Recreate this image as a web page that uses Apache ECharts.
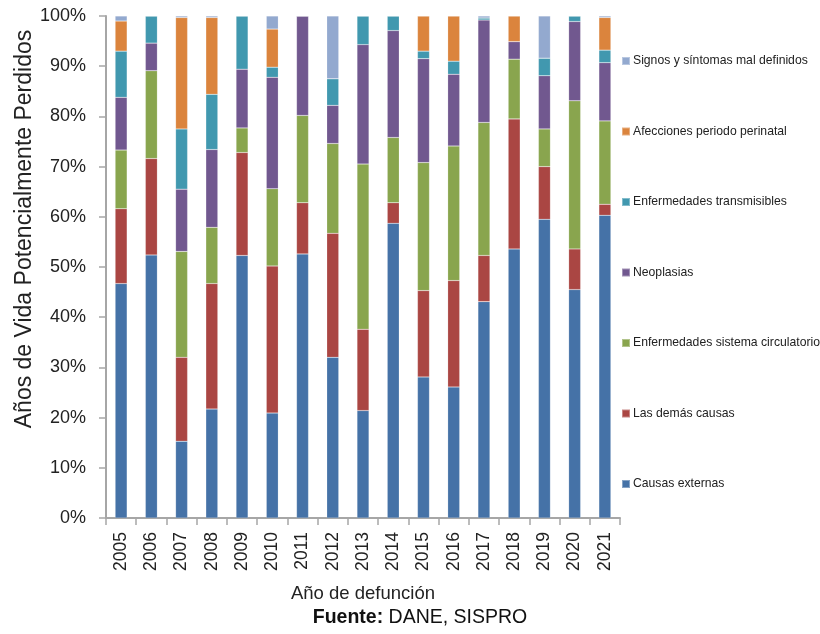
<!DOCTYPE html>
<html>
<head>
<meta charset="utf-8">
<script src="https://cdn.jsdelivr.net/npm/echarts@6/dist/echarts.min.js"></script>
<style>
html,body{margin:0;padding:0;background:#fff;}
#chart{width:820px;height:634px;}
</style>
</head>
<body>
<div id="chart"></div>
<script>
var years = ['2005','2006','2007','2008','2009','2010','2011','2012','2013','2014','2015','2016','2017','2018','2019','2020','2021'];
var causasExternas = [46.7,52.4,15.3,21.7,52.3,20.9,52.6,32.0,21.4,58.7,28.1,26.1,43.1,53.6,59.5,45.5,60.3];
var lasDemasCausas = [14.9,19.2,16.7,25.0,20.5,29.3,10.2,24.7,16.2,4.1,17.2,21.2,9.2,25.9,10.5,8.1,2.2];
var circulatorio = [11.7,17.5,21.1,11.2,4.9,15.4,17.4,17.9,32.9,13.0,25.5,26.8,26.5,11.9,7.5,29.5,16.6];
var neoplasias = [10.5,5.5,12.4,15.5,11.7,22.2,19.8,7.6,23.8,21.3,20.7,14.3,20.4,3.5,10.6,15.8,11.6];
var transmisibles = [9.2,5.4,12.0,11.0,10.6,2.0,0,5.3,5.7,2.9,1.5,2.6,0.4,0,3.5,1.1,2.5];
var perinatal = [6.0,0,22.2,15.3,0,7.6,0,0,0,0,7.0,9.0,0,5.1,0,0,6.5];
var signos = [1.0,0,0.3,0.3,0,2.6,0,12.5,0,0,0,0,0.4,0,8.4,0,0.3];
var yTicks = [0,10,20,30,40,50,60,70,80,90,100];

var seriesNames = ['Causas externas','Las demás causas','Enfermedades sistema circulatorio','Neoplasias','Enfermedades transmisibles','Afecciones periodo perinatal','Signos y síntomas mal definidos'];
var seriesData = [causasExternas,lasDemasCausas,circulatorio,neoplasias,transmisibles,perinatal,signos];
var colors = ['#4572A7','#AA4643','#89A54E','#71588F','#4198AF','#DB843D','#93A9CF'];

var FONT = '"Liberation Sans",Arial,sans-serif';

var chart = echarts.init(document.getElementById('chart'), null, {renderer:'canvas'});

var series = seriesNames.map(function(n,i){
  return {
    name:n, type:'bar', stack:'total', barWidth:12,
    data: seriesData[i],
    itemStyle:{color:colors[i], borderColor:'rgba(255,255,255,0.35)', borderWidth:0.5},
    emphasis:{disabled:true}
  };
});

var legendOrder = seriesNames.slice().reverse();
var legends = legendOrder.map(function(n,i){
  return {
    data:[n], left:616, top:50 + i*70.5, orient:'vertical',
    itemWidth:8, itemHeight:8, itemGap:0,
    icon:'rect',
    textStyle:{fontFamily:FONT, fontSize:12.2, color:'#222', padding:[0,0,0,-2]},
    selectedMode:false
  };
});

chart.setOption({
  animation:false,
  backgroundColor:'#fff',
  color:colors,
  legend:legends,
  grid:{left:106, right:200, top:16, bottom:116, containLabel:false},
  xAxis:{
    type:'category', data:years,
    name:'Año de defunción', nameLocation:'middle', nameGap:66,
    nameTextStyle:{fontFamily:FONT, fontSize:18.5, color:'#222'},
    axisLine:{lineStyle:{color:'#A6A6A6', width:2}},
    axisTick:{show:true, length:7, lineStyle:{color:'#A6A6A6', width:1.5}},
    axisLabel:{rotate:90, fontFamily:FONT, fontSize:17.5, color:'#222', margin:14}
  },
  yAxis:{
    type:'value', min:0, max:100, interval:10,
    axisLine:{show:true, lineStyle:{color:'#A6A6A6', width:2}},
    axisTick:{show:true, length:7, lineStyle:{color:'#A6A6A6', width:1.5}},
    splitLine:{show:false},
    axisLabel:{fontFamily:FONT, fontSize:18, color:'#222', margin:20, formatter:'{value}%'}
  },
  graphic:[
    {type:'text', x:25, y:229, rotation:Math.PI/2,
     style:{text:'Años de Vida Potencialmente Perdidos', font:'23px "Liberation Sans", Arial, sans-serif', fill:'#222', textAlign:'center', textVerticalAlign:'middle'}},
    {type:'text', x:420, y:618,
     style:{text:'{b|Fuente:} DANE, SISPRO', textAlign:'center', textVerticalAlign:'middle', fontFamily:FONT, fontSize:19.5, fill:'#111',
       rich:{b:{fontWeight:'bold', fontFamily:FONT, fontSize:19.5, fill:'#111'}}}}
  ],
  series:series
});
</script>
</body>
</html>
